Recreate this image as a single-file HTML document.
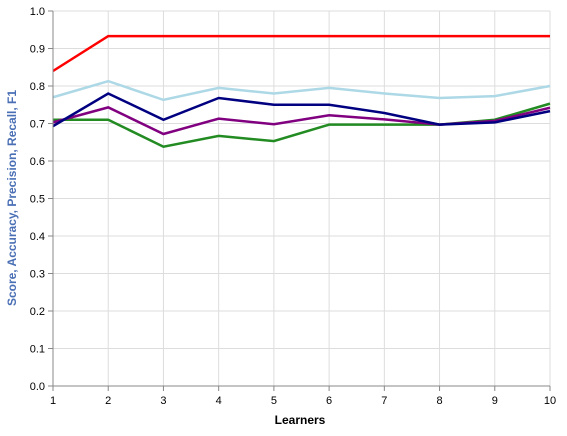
<!DOCTYPE html>
<html><head><meta charset="utf-8"><style>
body{margin:0;background:#fff;font-family:"Liberation Sans",sans-serif}
</style></head><body>
<svg width="567" height="431" id="chart">
<g id="grid"></g>
<g id="series"></g>
<g id="axes"></g>
<text x="300" y="424" text-anchor="middle" font-size="12" font-weight="bold" fill="#000">Learners</text>
<text transform="translate(16,198) rotate(-90)" text-anchor="middle" font-size="12" font-weight="bold" fill="#4a6fb5">Score, Accuracy, Precision, Recall, F1</text>
</svg>
<script>
const categories=[1,2,3,4,5,6,7,8,9,10];
const yTicks=[0,0.1,0.2,0.3,0.4,0.5,0.6,0.7,0.8,0.9,1.0];
const redVals=[0.84,0.933,0.933,0.933,0.933,0.933,0.933,0.933,0.933,0.933];
const lightBlueVals=[0.77,0.813,0.763,0.795,0.78,0.795,0.78,0.768,0.773,0.80];
const navyVals=[0.693,0.78,0.71,0.768,0.75,0.75,0.728,0.697,0.703,0.733];
const purpleVals=[0.703,0.743,0.672,0.713,0.698,0.722,0.711,0.697,0.707,0.742];
const greenVals=[0.71,0.71,0.638,0.667,0.653,0.697,0.697,0.697,0.71,0.753];
const L=53,R=550,T=11,B=386,NS="http://www.w3.org/2000/svg";
const xs=v=>L+(v-1)*(R-L)/9, ys=v=>B-v*(B-T);
function mk(tag,attrs,parent){const e=document.createElementNS(NS,tag);for(const k in attrs)e.setAttribute(k,attrs[k]);parent.appendChild(e);return e;}
const grid=document.getElementById('grid'),axes=document.getElementById('axes'),ser=document.getElementById('series');
yTicks.forEach(t=>{
 const l=mk('line',{x1:L,x2:R,y1:ys(t),y2:ys(t),stroke:'#ddd'},grid);
 
 
 const tk=mk('line',{x1:L-5,x2:L,y1:ys(t),y2:ys(t),stroke:'#888'},axes);
 
 
 const tx=mk('text',{x:L-8,y:ys(t)+4,'text-anchor':'end','font-size':'11',fill:'#000'},axes);
 tx.textContent=t.toFixed(1);
 
 
});
categories.forEach(c=>{
 const l=mk('line',{x1:xs(c),x2:xs(c),y1:T,y2:B,stroke:'#ddd'},grid);
 
 
 const tk=mk('line',{x1:xs(c),x2:xs(c),y1:B,y2:B+5,stroke:'#888'},axes);
 
 
 const tx=mk('text',{x:xs(c),y:B+18,'text-anchor':'middle','font-size':'11',fill:'#000'},axes);
 tx.textContent=c;
 
 
});
const ax1=mk('line',{x1:L,x2:L,y1:T,y2:B,stroke:'#888'},axes);


const ax2=mk('line',{x1:L,x2:R,y1:B,y2:B,stroke:'#888'},axes);


const seriesList=[[redVals,'#ff0000','score-line'],[lightBlueVals,'#add8e6','accuracy-line'],[greenVals,'#228b22','recall-line'],[purpleVals,'#800080','f1-line'],[navyVals,'#000080','precision-line']];
seriesList.forEach(([vals,col,name])=>{
 const p=mk('polyline',{points:vals.map((v,i)=>xs(categories[i])+','+ys(v)).join(' '),fill:'none',stroke:col,'stroke-width':'2.5'},ser);
 
 
});
</script>
</body></html>
